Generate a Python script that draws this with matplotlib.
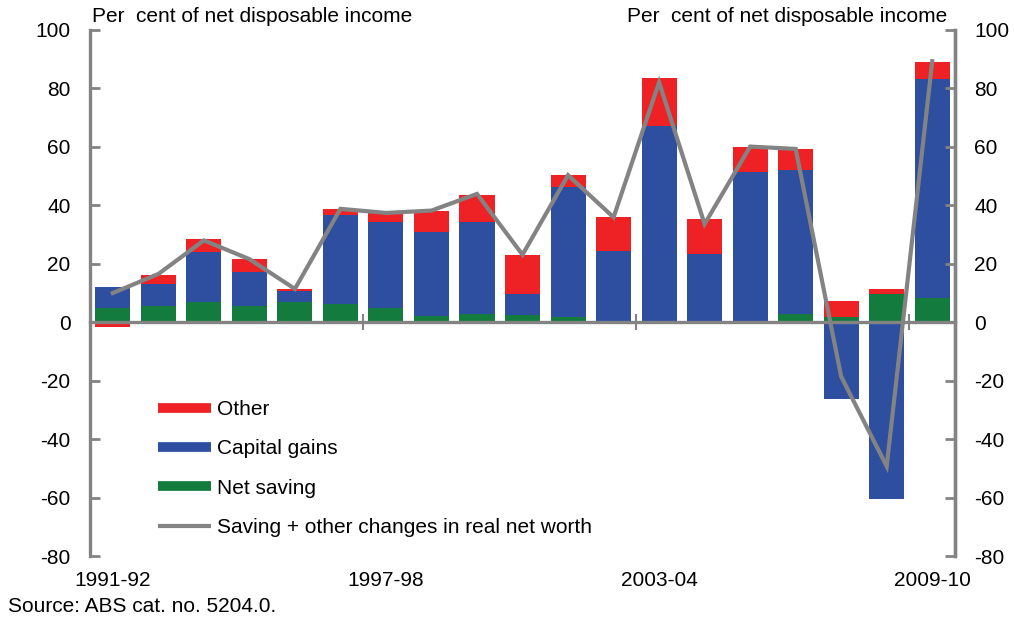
import numpy as np
import matplotlib
matplotlib.use('Agg')
import matplotlib.pyplot as plt
from matplotlib.lines import Line2D

plt.rcParams['font.family'] = ['Liberation Sans', 'DejaVu Sans']
plt.rcParams['axes.unicode_minus'] = False

years = ['1991-92', '1992-93', '1993-94', '1994-95', '1995-96', '1996-97',
         '1997-98', '1998-99', '1999-00', '2000-01', '2001-02', '2002-03',
         '2003-04', '2004-05', '2005-06', '2006-07', '2007-08', '2008-09',
         '2009-10']
net_saving = [4.9, 5.6, 7.0, 5.6, 7.0, 6.2, 5.0, 2.2, 2.9, 2.6, 1.9,
              -0.5, -0.5, -0.5, 0.3, 2.9, 1.7, 9.6, 8.3]
capital_gains = [7.2, 7.5, 17.1, 11.7, 3.8, 30.6, 29.2, 28.8, 31.5, 7.0, 44.2,
                 24.5, 67.1, 23.4, 51.2, 49.3, -26.4, -60.6, 74.9]
other = [-1.8, 3.2, 4.5, 4.4, 0.7, 2.0, 3.2, 7.2, 9.2, 13.5, 4.4,
         11.6, 16.3, 12.0, 8.6, 7.2, 5.5, 1.9, 5.8]
saving_plus_other = [10.0, 16.5, 28.0, 21.6, 11.4, 38.8, 37.4, 38.2, 43.9, 23.1,
                     50.3, 35.9, 82.1, 33.6, 60.1, 59.3, -18.6, -49.3, 89.3]
shown_years = ['1991-92', '1997-98', '2003-04', '2009-10']
y_ticks = [-80, -60, -40, -20, 0, 20, 40, 60, 80, 100]

RED = '#EE2224'
BLUE = '#2E4F9F'
GREEN = '#137B3D'
GRAY = '#838383'
FS = 15

fig = plt.figure(figsize=(10.14, 6.18), dpi=100)
ax = fig.add_axes([0.0888, 0.1003, 0.853, 0.8512])

n = len(years)
x = np.arange(n)
pos_b = np.zeros(n)
neg_b = np.zeros(n)
for vals, col in [(net_saving, GREEN), (capital_gains, BLUE), (other, RED)]:
    v = np.array(vals, dtype=float)
    b = np.where(v >= 0, pos_b, neg_b)
    ax.bar(x, v, bottom=b, width=0.77, color=col, zorder=2, linewidth=0)
    pos_b += np.where(v >= 0, v, 0)
    neg_b += np.where(v < 0, v, 0)

ax.plot(x, saving_plus_other, color=GRAY, lw=3, zorder=5, solid_joinstyle='miter')

ax.set_xlim(-0.5, n - 0.5)
ax.set_ylim(-80, 100)
ax.set_yticks(y_ticks)

ax.spines['top'].set_visible(False)
ax.spines['bottom'].set_position(('data', 0))
ax.spines['bottom'].set_color(GRAY)
ax.spines['bottom'].set_linewidth(2.4)
ax.spines['bottom'].set_zorder(4)
for s in ['left', 'right']:
    ax.spines[s].set_color(GRAY)
    ax.spines[s].set_linewidth(2.4)

idx = [years.index(t) for t in shown_years]
ax.set_xticks([i - 0.5 for i in idx[1:]])
ax.set_xticklabels([])
ax.tick_params(axis='x', direction='inout', length=12, width=1.5, color=GRAY)

sec = ax.secondary_xaxis(0.0)
sec.set_xticks(idx)
sec.set_xticklabels(shown_years, fontsize=FS)
sec.tick_params(length=0, pad=11)
sec.spines['bottom'].set_visible(False)

ax.tick_params(axis='y', direction='in', length=7, width=2, color=GRAY,
               labelsize=FS, pad=14)
ax2 = ax.twinx()
ax2.set_ylim(-80, 100)
ax2.set_yticks(y_ticks)
ax2.tick_params(axis='y', direction='in', length=7, width=2, color=GRAY,
                labelsize=FS, pad=14)
for s in ['top', 'bottom', 'left']:
    ax2.spines[s].set_visible(False)
ax2.spines['right'].set_color(GRAY)
ax2.spines['right'].set_linewidth(2.4)

fig.text(0.091, 0.974, 'Per  cent of net disposable income', fontsize=FS,
         ha='left', va='center')
fig.text(0.934, 0.974, 'Per  cent of net disposable income', fontsize=FS,
         ha='right', va='center')
fig.text(0.008, 0.018, 'Source: ABS cat. no. 5204.0.', fontsize=FS,
         ha='left', va='center')

handles = [Line2D([], [], color=RED, lw=7, solid_capstyle='butt'),
           Line2D([], [], color=BLUE, lw=7, solid_capstyle='butt'),
           Line2D([], [], color=GREEN, lw=7, solid_capstyle='butt'),
           Line2D([], [], color=GRAY, lw=3, solid_capstyle='butt')]
labels = ['Other', 'Capital gains', 'Net saving',
          'Saving + other changes in real net worth']
ax.legend(handles, labels, loc='lower left', bbox_to_anchor=(0.069, 0.02),
          frameon=False, fontsize=FS, handlelength=2.55, handletextpad=0.3,
          labelspacing=0.98, borderaxespad=0)

fig.savefig('out.png', dpi=100)
